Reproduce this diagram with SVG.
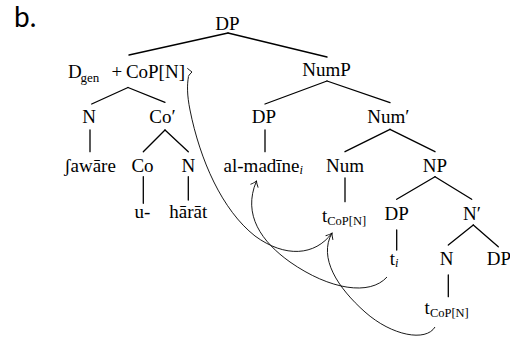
<svg xmlns="http://www.w3.org/2000/svg" width="510" height="341" viewBox="0 0 510 341">
<style>
  text { font-family: "Liberation Serif", "DejaVu Serif", serif; font-size: 19px; fill: #000; text-anchor: middle; }
  .sub { font-size: 12.5px; }
  .it { font-style: italic; }
  .lbl { font-family: Lato, "Liberation Sans", sans-serif; font-size: 28px; text-anchor: start; }
  .tree line { stroke: #000; stroke-width: 1.3; stroke-linecap: round; }
  .move path { fill: none; stroke: #000; stroke-width: 0.9; }
</style>
<defs>
  <marker id="arr" markerUnits="userSpaceOnUse" orient="auto" viewBox="-8 -6 10 12" refX="0" refY="0" markerWidth="10" markerHeight="12" overflow="visible">
    <path d="M-5.5,-4.2 Q-2.5,-1.2 0,0 Q-2.5,1.2 -5.5,4.2" fill="none" stroke="#000" stroke-width="0.9"/>
  </marker>
</defs>
<rect width="510" height="341" fill="#fff"/>
<text class="lbl" x="14" y="26.5">b.</text>

<g id="n-dp-root"><text x="227.5" y="29.5">DP</text></g>
<g id="n-dgen-cop">
  <text x="68" y="78" style="text-anchor:start">D</text>
  <text class="sub" x="80.5" y="81.5" style="text-anchor:start;font-size:13px">gen</text>
  <text x="116.8" y="78">+</text>
  <text x="185" y="78" style="text-anchor:end">CoP[N]</text>
</g>
<g id="n-nump"><text x="326.5" y="76">NumP</text></g>
<g id="n-n1"><text x="89" y="123.3">N</text></g>
<g id="n-co-bar"><text x="162.5" y="123">Co′</text></g>
<g id="n-dp2"><text x="264" y="122.5">DP</text></g>
<g id="n-num-bar"><text x="388.3" y="122.5">Num′</text></g>
<g id="n-saware"><text x="90" y="171.7">ʃawāre</text></g>
<g id="n-co"><text x="142.5" y="171.7">Co</text></g>
<g id="n-n2"><text x="188.3" y="171.7">N</text></g>
<g id="n-almadine"><text x="263.3" y="171.7">al-madīne<tspan class="sub it" dy="2.5">i</tspan></text></g>
<g id="n-num"><text x="345" y="171.7">Num</text></g>
<g id="n-np"><text x="435" y="171.7">NP</text></g>
<g id="n-u"><text x="142.5" y="218.3">u-</text></g>
<g id="n-harat"><text x="188.3" y="218.3">hārāt</text></g>
<g id="n-t-cop1"><text x="344" y="221.5">t<tspan class="sub" dy="3">CoP[N]</tspan></text></g>
<g id="n-dp3"><text x="396.7" y="219.5">DP</text></g>
<g id="n-n-bar"><text x="472" y="219.5">N′</text></g>
<g id="n-ti"><text x="394.2" y="265">t<tspan class="sub it" dy="2">i</tspan></text></g>
<g id="n-n3"><text x="446.7" y="265">N</text></g>
<g id="n-dp4"><text x="499" y="265">DP</text></g>
<g id="n-t-cop2"><text x="446.7" y="313.5">t<tspan class="sub" dy="3">CoP[N]</tspan></text></g>

<g id="connectors">
  <g class="tree">
    <line x1="228" y1="33" x2="129" y2="55"/>
    <line x1="228" y1="33" x2="327" y2="57"/>
    <line x1="128" y1="87.5" x2="91.7" y2="104"/>
    <line x1="128" y1="87.5" x2="165" y2="102.3"/>
    <line x1="327" y1="81" x2="265" y2="104"/>
    <line x1="327" y1="81" x2="390" y2="102.7"/>
    <line x1="90" y1="130" x2="90" y2="151.7"/>
    <line x1="165" y1="130" x2="143.3" y2="151.7"/>
    <line x1="165" y1="130" x2="188.3" y2="151.7"/>
    <line x1="265" y1="130" x2="265" y2="151.7"/>
    <line x1="390" y1="129.3" x2="345" y2="151.7"/>
    <line x1="390" y1="129.3" x2="435" y2="151.7"/>
    <line x1="143.3" y1="176.7" x2="143.3" y2="203.3"/>
    <line x1="188.3" y1="176.7" x2="188.3" y2="200"/>
    <line x1="345" y1="178" x2="345" y2="201.7"/>
    <line x1="435" y1="176.7" x2="396.7" y2="199.3"/>
    <line x1="435" y1="176.7" x2="471.7" y2="199.3"/>
    <line x1="396.7" y1="230" x2="396.7" y2="250"/>
    <line x1="473.3" y1="225" x2="448.3" y2="245"/>
    <line x1="473.3" y1="225" x2="498.3" y2="246.7"/>
    <line x1="448.3" y1="275" x2="448.3" y2="296.7"/>
  </g>
  <g class="move">
    <path d="M387,277 C370,296 330,290 290,262 C262,242 242,215 256.5,181" marker-end="url(#arr)"/>
    <path d="M435,327 C426,342 392,336 365,312 C338,288 318,258 332,233" marker-end="url(#arr)"/>
    <path d="M332,233 C315,256 285,258 255,236 C222,210 200,160 190,110 C187,95 187,85 188.5,76.5"/>
    <path d="M187.3,68.3 Q190,70.5 192,72 Q190,73.8 188.3,76.3"/>
  </g>
</g>
</svg>
